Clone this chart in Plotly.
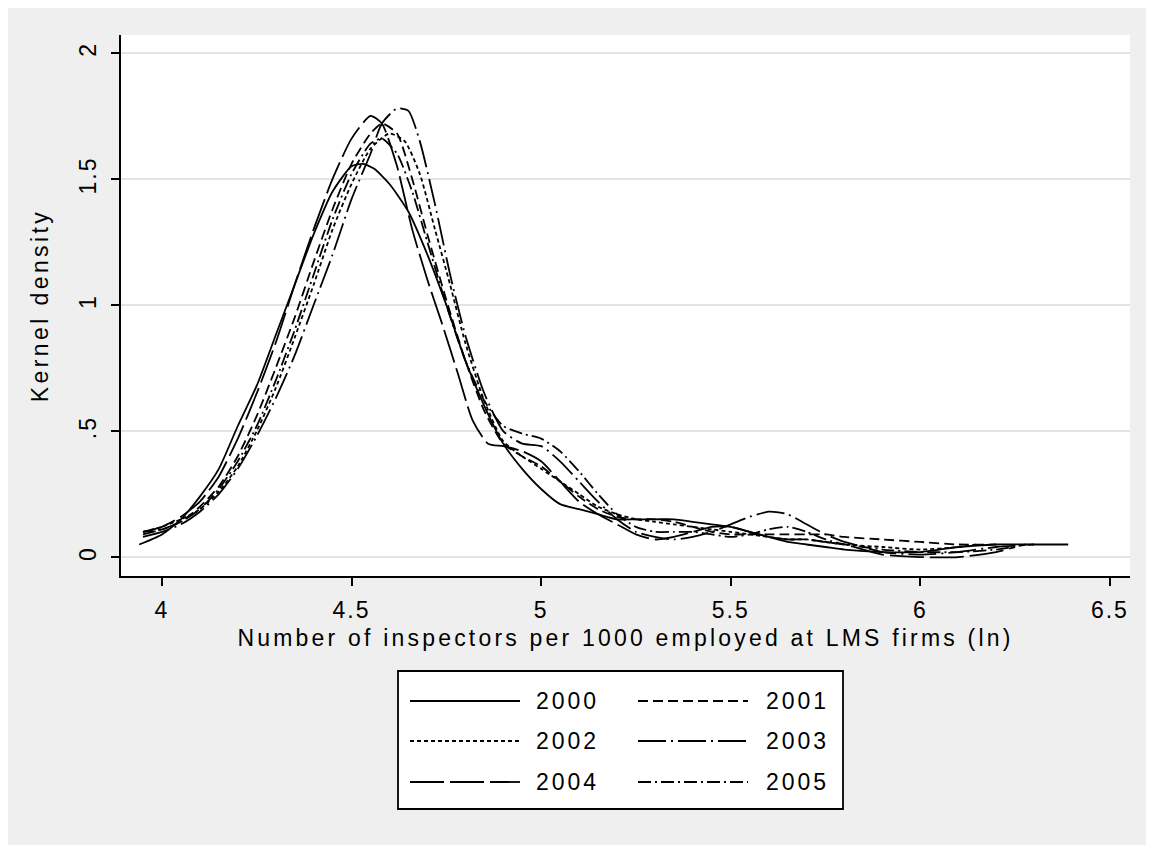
import plotly.graph_objects as go

# ---- data ----
years = ["2000", "2001", "2002", "2003", "2004", "2005"]

x_2000 = [3.94, 4.0, 4.05, 4.1, 4.15, 4.2, 4.25, 4.3, 4.35, 4.4, 4.45, 4.5, 4.53, 4.56, 4.6, 4.65, 4.7, 4.75, 4.8, 4.85, 4.9, 4.95, 5.0, 5.05, 5.1, 5.15, 5.2, 5.25, 5.3, 5.35, 5.4, 5.45, 5.5, 5.55, 5.6, 5.65, 5.7, 5.75, 5.8, 5.9, 6.0, 6.1, 6.2, 6.3, 6.39]
y_2000 = [0.05, 0.09, 0.15, 0.24, 0.35, 0.52, 0.68, 0.88, 1.08, 1.28, 1.45, 1.55, 1.56, 1.54, 1.48, 1.37, 1.2, 1.0, 0.78, 0.6, 0.45, 0.35, 0.27, 0.21, 0.19, 0.17, 0.15, 0.15, 0.15, 0.15, 0.14, 0.13, 0.12, 0.1, 0.08, 0.06, 0.05, 0.04, 0.03, 0.02, 0.02, 0.04, 0.05, 0.05, 0.05]

x_2001 = [3.95, 4.0, 4.05, 4.1, 4.15, 4.2, 4.25, 4.3, 4.35, 4.4, 4.45, 4.5, 4.55, 4.58, 4.62, 4.66, 4.7, 4.75, 4.8, 4.85, 4.9, 4.95, 5.0, 5.05, 5.1, 5.15, 5.2, 5.25, 5.3, 5.35, 5.4, 5.45, 5.5, 5.55, 5.6, 5.65, 5.7, 5.75, 5.8, 5.9, 6.0, 6.1, 6.2]
y_2001 = [0.1, 0.11, 0.14, 0.2, 0.28, 0.4, 0.56, 0.75, 0.95, 1.17, 1.38, 1.56, 1.68, 1.72, 1.68, 1.5, 1.28, 1.02, 0.78, 0.58, 0.45, 0.4, 0.36, 0.3, 0.24, 0.19, 0.16, 0.15, 0.15, 0.14, 0.12, 0.1, 0.09, 0.09, 0.09, 0.09, 0.09, 0.09, 0.08, 0.07, 0.06, 0.05, 0.05]

x_2002 = [3.95, 4.0, 4.05, 4.1, 4.15, 4.2, 4.25, 4.3, 4.35, 4.4, 4.45, 4.5, 4.55, 4.6, 4.64, 4.68, 4.72, 4.76, 4.8, 4.85, 4.9, 4.95, 5.0, 5.05, 5.1, 5.15, 5.2, 5.25, 5.3, 5.35, 5.4, 5.45, 5.5, 5.55, 5.6, 5.65, 5.7, 5.75, 5.8, 5.9, 6.0, 6.1, 6.15]
y_2002 = [0.1, 0.12, 0.15, 0.19, 0.26, 0.36, 0.5, 0.67, 0.87, 1.08, 1.3, 1.48, 1.62, 1.68, 1.65, 1.52, 1.3, 1.08, 0.85, 0.62, 0.46, 0.4, 0.35, 0.3, 0.25, 0.2, 0.17, 0.15, 0.14, 0.13, 0.12, 0.11, 0.1, 0.09, 0.08, 0.07, 0.07, 0.06, 0.05, 0.04, 0.03, 0.04, 0.05]

x_2003 = [3.95, 4.0, 4.05, 4.1, 4.15, 4.2, 4.25, 4.3, 4.35, 4.4, 4.45, 4.5, 4.55, 4.58, 4.62, 4.65, 4.68, 4.72, 4.76, 4.8, 4.85, 4.9, 4.95, 5.0, 5.05, 5.1, 5.15, 5.2, 5.25, 5.3, 5.35, 5.4, 5.45, 5.5, 5.55, 5.6, 5.65, 5.7, 5.75, 5.8, 5.85, 5.9, 6.0, 6.1, 6.2, 6.3]
y_2003 = [0.08, 0.1, 0.13, 0.18, 0.25, 0.35, 0.48, 0.63, 0.8, 1.0, 1.2, 1.42, 1.6, 1.72, 1.78, 1.77, 1.65, 1.4, 1.12, 0.88, 0.65, 0.5, 0.45, 0.44, 0.38, 0.3, 0.22, 0.15, 0.1, 0.08, 0.07, 0.08, 0.1, 0.13, 0.16, 0.18, 0.17, 0.13, 0.09, 0.06, 0.04, 0.02, 0.01, 0.02, 0.04, 0.05]

x_2004 = [3.95, 4.0, 4.05, 4.1, 4.15, 4.2, 4.25, 4.3, 4.35, 4.4, 4.45, 4.5, 4.55, 4.58, 4.62, 4.66, 4.7, 4.74, 4.78, 4.82, 4.86, 4.9, 4.95, 5.0, 5.05, 5.1, 5.15, 5.2, 5.25, 5.3, 5.35, 5.4, 5.45, 5.5, 5.55, 5.6, 5.65, 5.7, 5.75, 5.8, 5.85, 5.9, 6.0, 6.1, 6.2, 6.25]
y_2004 = [0.1, 0.12, 0.16, 0.22, 0.32, 0.47, 0.65, 0.85, 1.08, 1.3, 1.5, 1.66, 1.75, 1.72, 1.55, 1.3, 1.1, 0.92, 0.73, 0.54, 0.45, 0.44, 0.42, 0.38, 0.3, 0.22, 0.17, 0.13, 0.09, 0.07, 0.08, 0.1, 0.12, 0.12, 0.1, 0.08, 0.07, 0.07, 0.06, 0.05, 0.03, 0.01, 0.0, 0.0, 0.02, 0.04]

x_2005 = [3.95, 4.0, 4.05, 4.1, 4.15, 4.2, 4.25, 4.3, 4.35, 4.4, 4.45, 4.5, 4.55, 4.58, 4.62, 4.66, 4.7, 4.75, 4.8, 4.85, 4.9, 4.95, 5.0, 5.05, 5.1, 5.15, 5.2, 5.25, 5.3, 5.35, 5.4, 5.45, 5.5, 5.55, 5.6, 5.65, 5.7, 5.75, 5.8, 5.85, 5.9, 6.0, 6.1, 6.2, 6.28]
y_2005 = [0.09, 0.11, 0.14, 0.19, 0.27, 0.38, 0.52, 0.7, 0.9, 1.12, 1.34, 1.52, 1.64, 1.66, 1.6, 1.45, 1.25, 1.0, 0.78, 0.62, 0.52, 0.49, 0.47, 0.42, 0.34, 0.25, 0.17, 0.12, 0.1, 0.1, 0.1, 0.09, 0.08, 0.09, 0.11, 0.12, 0.1, 0.07, 0.05, 0.04, 0.03, 0.02, 0.02, 0.03, 0.05]

x_ticks = [4, 4.5, 5, 5.5, 6, 6.5]
x_ticktext = ["4", "4.5", "5", "5.5", "6", "6.5"]
y_ticks = [0, 0.5, 1, 1.5, 2]
y_ticktext = ["0", ".5", "1", "1.5", "2"]
x_title = "Number of inspectors per 1000 employed at LMS firms (ln)"
y_title = "Kernel density"

# ---- styling ----
xs = [x_2000, x_2001, x_2002, x_2003, x_2004, x_2005]
ys = [y_2000, y_2001, y_2002, y_2003, y_2004, y_2005]
dashes = ["solid", "10px,5px", "4px,3px", "28px,5px,2px,5px", "34px,6px", "13px,4px,2px,4px"]

OFF = 8  # page body margin
W, H = 1154 - OFF, 845 - OFF
L, R, T, B = 121 - OFF, 1130 - OFF, 35 - OFF, 576 - OFF
FONT = "Arial, Liberation Sans, sans-serif"
FS = 23

def sp(t, ls=3.2):
    return '<span style="letter-spacing:%spx">%s</span>' % (ls, t)

def px2x(px):
    return (px - OFF - L) / (R - L)

def py2y(py):
    return (B - (py - OFF)) / (B - T)

fig = go.Figure()
for yr, xv, yv, d in zip(years, xs, ys, dashes):
    fig.add_trace(go.Scatter(x=xv, y=yv, mode="lines", name=yr,
                             line=dict(color="black", width=1.8, dash=d, shape="spline", smoothing=0.6),
                             showlegend=False))

shapes = []
annotations = []
# legend box (manual, to match Stata layout); pixel positions in page coordinates
shapes.append(dict(type="rect", xref="paper", yref="paper", x0=px2x(398), x1=px2x(843), y0=py2y(809), y1=py2y(671),
                   fillcolor="white", line=dict(color="black", width=1.8), layer="above"))
rows = [701, 741, 782]
cols = [(410, 520, 534), (638, 748, 764)]
for i, (yr, d) in enumerate(zip(years, dashes)):
    r, c = divmod(i, 2)
    x0, x1, tx = cols[c]
    yy = py2y(rows[r])
    shapes.append(dict(type="line", xref="paper", yref="paper", x0=px2x(x0), x1=px2x(x1), y0=yy, y1=yy,
                       line=dict(color="black", width=1.8, dash=d), layer="above"))
    annotations.append(dict(xref="paper", yref="paper", x=px2x(tx), y=yy, text=sp(yr, 3), showarrow=False,
                            xanchor="left", yanchor="middle", font=dict(family=FONT, size=FS, color="black")))

fig.update_layout(
    width=W, height=H,
    margin=dict(l=L, r=W - R, t=T, b=H - B, pad=0),
    paper_bgcolor="#efefef",
    plot_bgcolor="white",
    font=dict(family=FONT, size=FS, color="black"),
    showlegend=False,
    shapes=shapes,
    annotations=annotations,
)
fig.update_xaxes(
    range=[3.892, 6.553], tickvals=x_ticks, ticktext=[sp(t, 2) for t in x_ticktext],
    showgrid=False, zeroline=False, showline=True, linecolor="black", linewidth=1.8,
    ticks="outside", ticklen=8, tickwidth=1.8, tickcolor="black", ticklabelstandoff=4,
    tickfont=dict(size=FS),
    title=dict(text=sp(x_title, 3.2), font=dict(size=FS), standoff=8),
)
fig.update_yaxes(
    range=[-0.075, 2.071], tickvals=y_ticks, ticktext=[sp(t, 2) for t in y_ticktext], tickangle=-90,
    showgrid=True, gridcolor="#e4e4e4", gridwidth=1.5, zeroline=False,
    showline=True, linecolor="black", linewidth=1.8,
    ticks="outside", ticklen=8, tickwidth=1.8, tickcolor="black", ticklabelstandoff=6,
    tickfont=dict(size=FS),
    title=dict(text=sp(y_title, 3.4), font=dict(size=FS), standoff=20),
)

fig.write_html("out.html")
